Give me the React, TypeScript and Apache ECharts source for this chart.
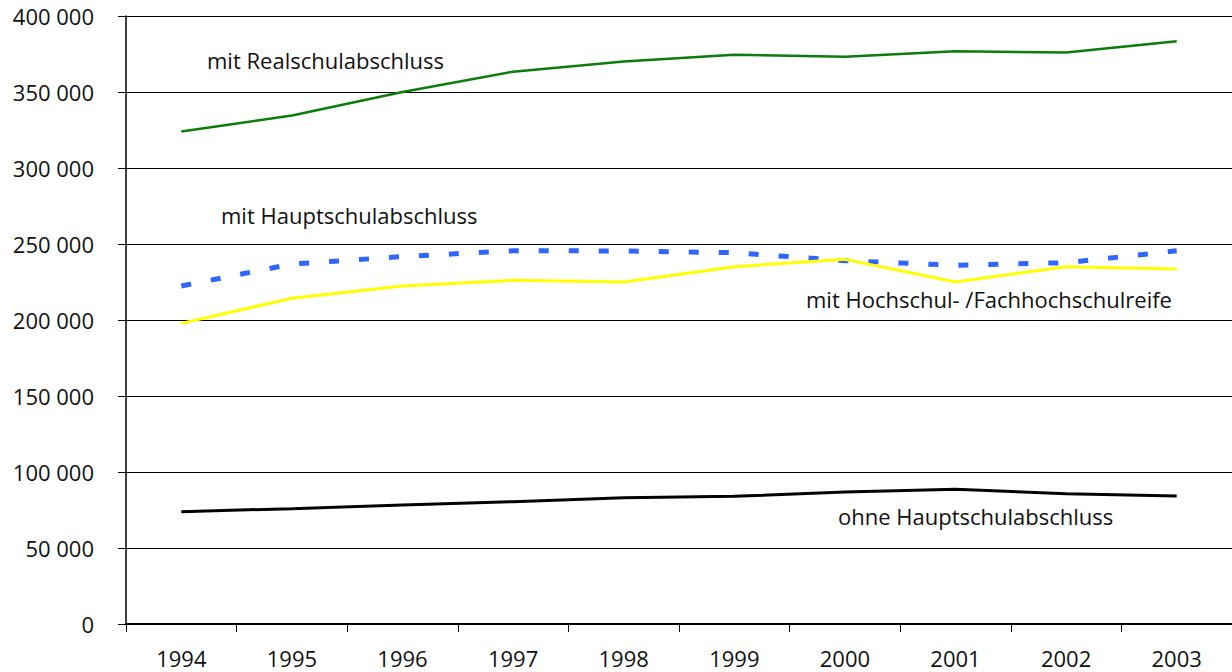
import React, { useEffect, useRef } from "react";
import * as echarts from "echarts";

const years = ["1994", "1995", "1996", "1997", "1998", "1999", "2000", "2001", "2002", "2003"];
const realschul = [324000, 334500, 350000, 363400, 370000, 374500, 373200, 376800, 376000, 383400];
const hauptschul = [222400, 236800, 241700, 245600, 245400, 244300, 239000, 236000, 237700, 245500];
const hochschul = [197800, 214300, 222400, 226100, 225000, 235100, 239900, 225000, 235100, 233600];
const ohne = [73900, 75900, 78300, 80500, 83000, 84000, 86800, 88600, 85700, 84200];

const seriesLabels = [
  "mit Realschulabschluss",
  "mit Hauptschulabschluss",
  "mit Hochschul- /Fachhochschulreife",
  "ohne Hauptschulabschluss",
];

const FONT = "'Open Sans', sans-serif";

function fmt(v: number): string {
  if (v === 0) return "0";
  const s = String(v);
  return s.replace(/\B(?=(\d{3})+(?!\d))/g, " ");
}

export default function App() {
  const ref = useRef<HTMLDivElement>(null);
  useEffect(() => {
    if (!ref.current) return;
    const chart = echarts.init(ref.current, null, { renderer: "svg" });
    const labelStyle = { fill: "#111", fontSize: 22, fontFamily: FONT };
    chart.setOption({
      animation: false,
      backgroundColor: "#fff",
      grid: { left: 126, right: 0, top: 16, bottom: 48, containLabel: false },
      xAxis: {
        type: "category",
        data: years,
        boundaryGap: true,
        axisLine: { show: true, lineStyle: { color: "#000", width: 2 } },
        axisTick: { show: true, length: 8, lineStyle: { color: "#000", width: 1 } },
        axisLabel: { color: "#111", fontSize: 22, fontFamily: FONT, margin: 23 },
        splitLine: { show: false },
      },
      yAxis: {
        type: "value",
        min: 0,
        max: 400000,
        interval: 50000,
        axisLine: { show: true, lineStyle: { color: "#000", width: 1.5 } },
        axisTick: { show: true, length: 8, lineStyle: { color: "#000", width: 1 } },
        axisLabel: {
          color: "#111",
          fontSize: 22,
          fontFamily: FONT,
          margin: 32,
          formatter: (v: number) => fmt(v),
        },
        splitLine: { show: true, lineStyle: { color: "#000", width: 1 } },
      },
      series: [
        {
          name: seriesLabels[0],
          type: "line",
          data: realschul,
          symbol: "none",
          lineStyle: { color: "#0a7d0a", width: 2.5 },
        },
        {
          name: seriesLabels[1],
          type: "line",
          data: hauptschul,
          symbol: "none",
          lineStyle: { color: "#2f66ff", width: 5, type: [10, 20] },
        },
        {
          name: seriesLabels[2],
          type: "line",
          data: hochschul,
          symbol: "none",
          lineStyle: { color: "#ffff00", width: 3 },
        },
        {
          name: seriesLabels[3],
          type: "line",
          data: ohne,
          symbol: "none",
          lineStyle: { color: "#000", width: 3 },
        },
      ],
      graphic: [
        { type: "text", left: 207, top: 49, style: { text: seriesLabels[0], ...labelStyle } },
        { type: "text", left: 221, top: 204, style: { text: seriesLabels[1], ...labelStyle } },
        { type: "text", left: 806, top: 288, style: { text: seriesLabels[2], ...labelStyle } },
        { type: "text", left: 838, top: 505, style: { text: seriesLabels[3], ...labelStyle } },
      ],
    });
    return () => chart.dispose();
  }, []);
  return (
    <div
      ref={ref}
      style={{ position: "fixed", left: 0, top: 0, width: 1232, height: 672, background: "#fff" }}
    />
  );
}
